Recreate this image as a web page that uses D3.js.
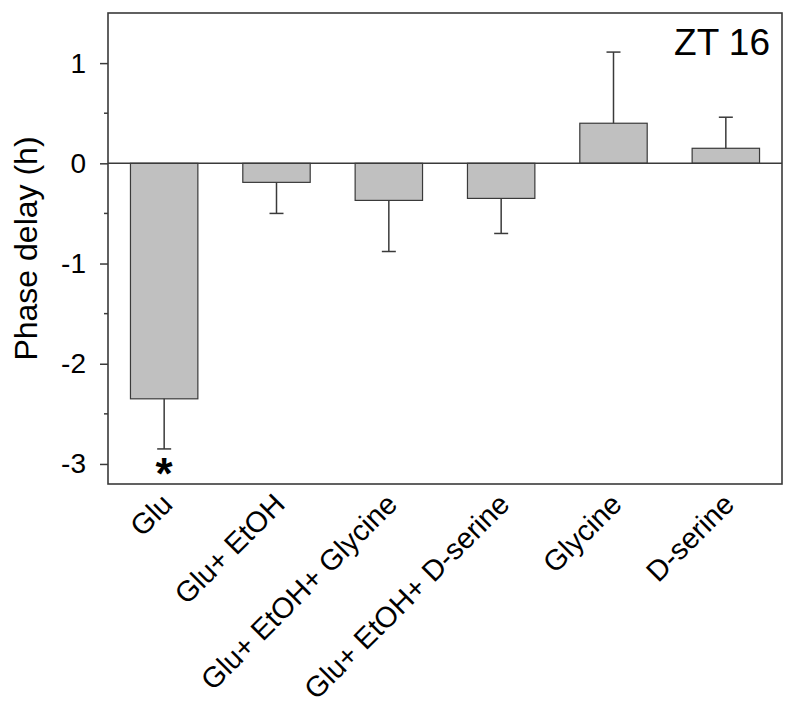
<!DOCTYPE html>
<html>
<head>
<meta charset="utf-8">
<script src="https://cdn.jsdelivr.net/npm/d3@7"></script>
<style>
  body { margin: 0; background: #fff; }
  text { font-family: Arial, "Liberation Sans", sans-serif; }
</style>
</head>
<body>
<div id="chart"></div>
<script>
// data
const groups = ["Glu", "Glu+ EtOH", "Glu+ EtOH+ Glycine", "Glu+ EtOH+ D-serine", "Glycine", "D-serine"];
const means = [-2.35, -0.19, -0.37, -0.35, 0.40, 0.15];
const errs = [0.50, 0.31, 0.51, 0.35, 0.71, 0.31];
const signif = [true, false, false, false, false, false];
const yTicks = [-3, -2, -1, 0, 1];
const yMinorTicks = [-2.5, -1.5, -0.5, 0.5];

const W = 800, H = 714;
const margin = { top: 13, right: 18, bottom: 230, left: 108 };
const width = W - margin.left - margin.right;
const height = H - margin.top - margin.bottom;

const svg = d3.select("#chart").append("svg")
  .attr("width", W).attr("height", H);
const g = svg.append("g").attr("transform", `translate(${margin.left},${margin.top})`);

const x = d3.scaleBand().domain(groups).range([0, width]).paddingInner(0.4).paddingOuter(0.2);
const y = d3.scaleLinear().domain([-3.2, 1.5]).range([height, 0]);

const ink = "#3a3a3a";

// bars
g.selectAll(".bar").data(groups).join("rect")
  .attr("class", "bar")
  .attr("x", d => x(d))
  .attr("width", x.bandwidth())
  .attr("y", (d, i) => y(Math.max(0, means[i])))
  .attr("height", (d, i) => Math.abs(y(means[i]) - y(0)))
  .attr("fill", "#c0c0c0")
  .attr("stroke", ink)
  .attr("stroke-width", 1.2);

// error bars (one-sided, away from zero)
const tip = (i) => means[i] < 0 ? means[i] - errs[i] : means[i] + errs[i];
g.selectAll(".err").data(groups).join("line")
  .attr("x1", d => x(d) + x.bandwidth() / 2)
  .attr("x2", d => x(d) + x.bandwidth() / 2)
  .attr("y1", (d, i) => y(means[i]))
  .attr("y2", (d, i) => y(tip(i)))
  .attr("stroke", ink).attr("stroke-width", 1.5);
g.selectAll(".cap").data(groups).join("line")
  .attr("x1", d => x(d) + x.bandwidth() / 2 - 7)
  .attr("x2", d => x(d) + x.bandwidth() / 2 + 7)
  .attr("y1", (d, i) => y(tip(i)))
  .attr("y2", (d, i) => y(tip(i)))
  .attr("stroke", ink).attr("stroke-width", 1.5);

// significance marks
g.selectAll(".star").data(groups.filter((d, i) => signif[i])).join("text")
  .attr("x", d => x(d) + x.bandwidth() / 2)
  .attr("y", d => y(means[groups.indexOf(d)] - errs[groups.indexOf(d)]) + 40)
  .attr("text-anchor", "middle")
  .style("font-size", "44px").style("font-weight", "bold")
  .text("*");

// zero line
g.append("line")
  .attr("x1", 0).attr("x2", width)
  .attr("y1", y(0)).attr("y2", y(0))
  .attr("stroke", ink).attr("stroke-width", 1.5);

// frame
g.append("rect")
  .attr("width", width).attr("height", height)
  .attr("fill", "none").attr("stroke", ink).attr("stroke-width", 1.6);

// y axis
const yAxis = g.append("g")
  .call(d3.axisLeft(y).tickValues(yTicks).tickSize(8).tickPadding(14).tickFormat(d3.format("d")))
  .call(a => a.select(".domain").remove());
yAxis.selectAll(".tick line").attr("stroke", ink).attr("stroke-width", 1.5);
yAxis.selectAll(".tick text").style("font-size", "28px").attr("fill", "#000")
  .text(d => d < 0 ? "-" + Math.abs(d) : d);

g.selectAll(".minor").data(yMinorTicks).join("line")
  .attr("x1", -4).attr("x2", 0)
  .attr("y1", d => y(d)).attr("y2", d => y(d))
  .attr("stroke", ink).attr("stroke-width", 1.5);

// y title
svg.append("text")
  .attr("transform", `translate(37,${margin.top + y(-0.85)}) rotate(-90)`)
  .attr("text-anchor", "middle")
  .style("font-size", "32px")
  .text("Phase delay (h)");

// x labels
g.selectAll(".xlab").data(groups).join("text")
  .attr("transform", d => `translate(${x(d) + x.bandwidth() / 2 + 10},${height + 22}) rotate(-45)`)
  .attr("text-anchor", "end")
  .style("font-size", "29px")
  .text(d => d);

// panel label
g.append("text")
  .attr("x", width - 12).attr("y", 42)
  .attr("text-anchor", "end")
  .style("font-size", "37px")
  .text("ZT 16");
</script>
</body>
</html>
